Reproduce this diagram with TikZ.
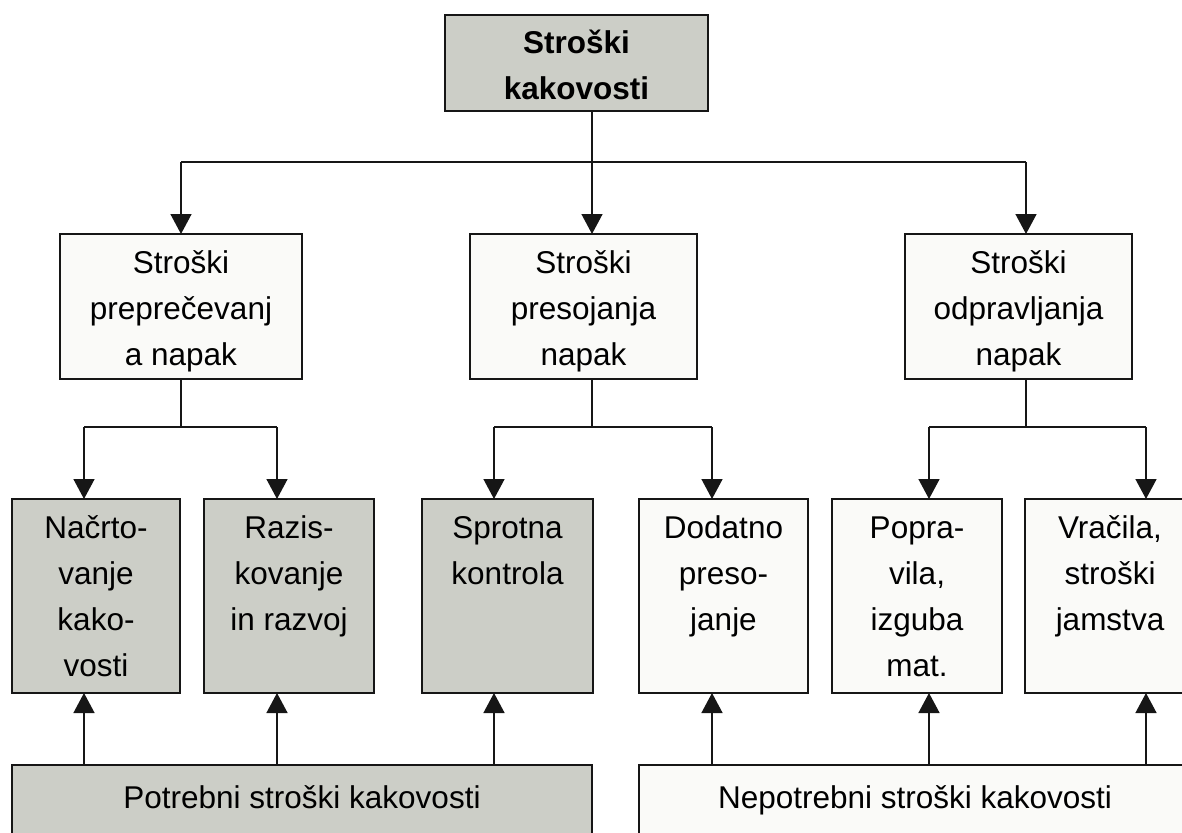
\documentclass[tikz,border=0pt]{standalone}
\usepackage{fontspec}
\setmainfont{Liberation Sans}
\usetikzlibrary{arrows.meta}
\definecolor{boxgrey}{HTML}{CCCEC7}
\definecolor{boxwhite}{HTML}{FAFAF8}
\definecolor{linec}{HTML}{161616}
\newcommand{\boxtext}[3]{\parbox[t][#2][t]{#1}{\centering\fontsize{31.5}{46}\selectfont\rule{0pt}{39pt}#3}}
\tikzset{
  gbox/.style={draw=linec, line width=1.6pt, fill=boxgrey, inner sep=0pt, outer sep=0pt, anchor=north west},
  wbox/.style={draw=linec, line width=1.6pt, fill=boxwhite, inner sep=0pt, outer sep=0pt, anchor=north west},
  conn/.style={draw=linec, line width=1.5pt},
  arr/.style={conn, -{Triangle[length=20pt,width=21pt]}}
}
\begin{document}
\begin{tikzpicture}[x=1pt,y=-1pt]
\useasboundingbox (0,0) rectangle (1182,832);
\clip (0,0) rectangle (1182,832);
% top
\node[gbox] (top) at (445,15) {\boxtext{263pt}{96pt}{\bfseries Stroški\\kakovosti}};
% level 2
\node[wbox] (pre) at (60,234) {\boxtext{242pt}{145pt}{Stroški\\preprečevanj\\a napak}};
\node[wbox] (pres) at (470,234) {\boxtext{227pt}{145pt}{Stroški\\presojanja\\napak}};
\node[wbox] (odp) at (905,234) {\boxtext{227pt}{145pt}{Stroški\\odpravljanja\\napak}};
% level 3
\node[gbox] (nac) at (12,499) {\boxtext{168pt}{194pt}{Načrto-\\vanje\\kako-\\vosti}};
\node[gbox] (raz) at (204,499) {\boxtext{170pt}{194pt}{Razis-\\kovanje\\in razvoj}};
\node[gbox] (spr) at (422,499) {\boxtext{171pt}{194pt}{Sprotna\\kontrola}};
\node[wbox] (dod) at (639,499) {\boxtext{169pt}{194pt}{Dodatno\\preso-\\janje}};
\node[wbox] (pop) at (832,499) {\boxtext{170pt}{194pt}{Popra-\\vila,\\izguba\\mat.}};
\node[wbox] (vra) at (1025,499) {\boxtext{170pt}{194pt}{Vračila,\\stroški\\jamstva}};
% bottom
\node[gbox] (pot) at (12,765) {\parbox[t][100pt][t]{580pt}{\centering\fontsize{31.5}{46}\selectfont\rule{0pt}{43pt}Potrebni stroški kakovosti}};
\node[wbox] (nep) at (639,765) {\parbox[t][100pt][t]{552pt}{\centering\fontsize{31.5}{46}\selectfont\rule{0pt}{43pt}Nepotrebni stroški kakovosti}};
% junctions
\coordinate (j0) at (592,162);
\coordinate (ja) at (181,162);
\coordinate (jc) at (1026,162);
\coordinate (k1) at (181,427);
\coordinate (k1a) at (84,427);
\coordinate (k1b) at (277,427);
\coordinate (k2) at (592,427);
\coordinate (k2a) at (494,427);
\coordinate (k2b) at (712,427);
\coordinate (k3) at (1026,427);
\coordinate (k3a) at (929,427);
\coordinate (k3b) at (1146,427);
% level 1 -> 2
\draw[conn] (top.south -| j0) -- (j0);
\draw[conn] (ja) -- (jc);
\draw[arr] (ja) -- (pre.north -| ja);
\draw[arr] (j0) -- (pres.north -| j0);
\draw[arr] (jc) -- (odp.north -| jc);
% level 2 -> 3
\draw[conn] (pre.south -| k1) -- (k1);
\draw[conn] (k1a) -- (k1b);
\draw[arr] (k1a) -- (nac.north -| k1a);
\draw[arr] (k1b) -- (raz.north -| k1b);
\draw[conn] (pres.south -| k2) -- (k2);
\draw[conn] (k2a) -- (k2b);
\draw[arr] (k2a) -- (spr.north -| k2a);
\draw[arr] (k2b) -- (dod.north -| k2b);
\draw[conn] (odp.south -| k3) -- (k3);
\draw[conn] (k3a) -- (k3b);
\draw[arr] (k3a) -- (pop.north -| k3a);
\draw[arr] (k3b) -- (vra.north -| k3b);
% bottom -> level 3
\draw[arr] (pot.north -| k1a) -- (nac.south -| k1a);
\draw[arr] (pot.north -| k1b) -- (raz.south -| k1b);
\draw[arr] (pot.north -| k2a) -- (spr.south -| k2a);
\draw[arr] (nep.north -| k2b) -- (dod.south -| k2b);
\draw[arr] (nep.north -| k3a) -- (pop.south -| k3a);
\draw[arr] (nep.north -| k3b) -- (vra.south -| k3b);
\end{tikzpicture}
\end{document}
